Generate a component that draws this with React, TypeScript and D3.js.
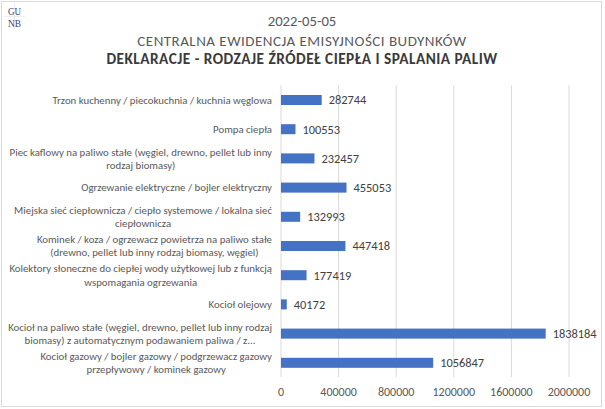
import React, { useEffect, useRef } from "react";
import * as d3 from "d3";

const W = 605;
const H = 409;

const titleDate = "2022-05-05";
const titleMain = "CENTRALNA EWIDENCJA EMISYJNOŚCI BUDYNKÓW";
const titleSub = "DEKLARACJE - RODZAJE ŹRÓDEŁ CIEPŁA I SPALANIA PALIW";

const categories: string[][] = [
  ["Trzon kuchenny / piecokuchnia / kuchnia węglowa"],
  ["Pompa ciepła"],
  ["Piec kaflowy na paliwo stałe (węgiel, drewno, pellet lub inny", "rodzaj biomasy)"],
  ["Ogrzewanie elektryczne / bojler elektryczny"],
  ["Miejska sieć ciepłownicza / ciepło systemowe / lokalna sieć", "ciepłownicza"],
  ["Kominek / koza / ogrzewacz powietrza na paliwo stałe", "(drewno, pellet lub inny rodzaj biomasy, węgiel)"],
  ["Kolektory słoneczne do ciepłej wody użytkowej lub z funkcją", "wspomagania ogrzewania"],
  ["Kocioł olejowy"],
  ["Kocioł na paliwo stałe (węgiel, drewno, pellet lub inny rodzaj", "biomasy) z automatycznym podawaniem paliwa / z..."],
  ["Kocioł gazowy / bojler gazowy / podgrzewacz gazowy", "przepływowy / kominek gazowy"],
];

const values: number[] = [282744, 100553, 232457, 455053, 132993, 447418, 177419, 40172, 1838184, 1056847];

const xTicks: number[] = [0, 400000, 800000, 1200000, 1600000, 2000000];

const FONT = "Carlito, Lato, 'Open Sans', sans-serif";

export default function App() {
  const gRef = useRef<SVGGElement>(null);

  const x = d3.scaleLinear().domain([0, 2000000]).range([281, 569]);
  const ids = categories.map((_, i) => String(i));
  const y = d3
    .scaleBand<string>()
    .domain(ids)
    .range([85.4, 377.4])
    .paddingInner(0.657)
    .paddingOuter(0.3285);

  const labelRight = 272;

  useEffect(() => {
    if (!gRef.current) return;
    const g = d3.select(gRef.current);
    g.selectAll<SVGGElement, unknown>("g.cat").each(function () {
      const texts = d3.select(this).selectAll<SVGTextElement, unknown>("text");
      let maxW = 0;
      texts.each(function () {
        maxW = Math.max(maxW, this.getComputedTextLength());
      });
      texts.attr("x", labelRight - maxW / 2).attr("text-anchor", "middle");
    });
  }, []);

  return (
    <svg
      width={W}
      height={H}
      style={{ position: "absolute", left: 0, top: 0, background: "#fff" }}
      fontFamily={FONT}
    >
      <rect x={1.5} y={1.5} width={600} height={405} fill="#fff" stroke="#d9d9d9" strokeWidth={1} />

      {/* logo */}
      <g fill="#3a4478" fontFamily="'Liberation Serif', 'DejaVu Serif', serif" fontSize={11}>
        <line x1={14.5} y1={3} x2={14.5} y2={30} stroke="#dfe2ec" strokeWidth={0.7} />
        <line x1={4} y1={16.3} x2={25} y2={16.3} stroke="#dfe2ec" strokeWidth={0.7} />
        <text x={8} y={15} textLength={13} lengthAdjust="spacingAndGlyphs">GU</text>
        <text x={8} y={27} textLength={13} lengthAdjust="spacingAndGlyphs">NB</text>
      </g>

      {/* titles */}
      <text x={302} y={26} textAnchor="middle" fontSize={14.7} fill="#595959">{titleDate}</text>
      <text x={302} y={45.5} textAnchor="middle" fontSize={15} letterSpacing={0.48} fill="#595959">{titleMain}</text>
      <text x={302} y={63.5} textAnchor="middle" fontSize={15.3} letterSpacing={0.47} fontWeight="bold" fill="#3a3a3a">{titleSub}</text>

      {/* gridlines */}
      <g>
        {xTicks.map((t) => (
          <line key={t} x1={x(t)} x2={x(t)} y1={85.5} y2={377} stroke="#d9d9d9" strokeWidth={1} />
        ))}
      </g>

      {/* bars */}
      <g>
        {values.map((v, i) => (
          <rect
            key={i}
            x={x(0)}
            y={y(ids[i])!}
            width={x(v) - x(0)}
            height={y.bandwidth()}
            fill="#4472c4"
          />
        ))}
      </g>

      {/* value labels */}
      <g fontSize={12.4} fill="#404040">
        {values.map((v, i) => (
          <text key={i} x={x(v) + 7} y={y(ids[i])! + y.bandwidth() / 2} dy="0.35em">
            {v}
          </text>
        ))}
      </g>

      {/* category labels */}
      <g ref={gRef} fontSize={10.8} fill="#595959">
        {categories.map((lines, i) => {
          const cy = y(ids[i])! + y.bandwidth() / 2;
          const lh = 13.2;
          const start = cy - ((lines.length - 1) * lh) / 2;
          return (
            <g className="cat" key={i}>
              {lines.map((ln, j) => (
                <text key={j} x={labelRight} y={start + j * lh} dy="0.35em" textAnchor="end">
                  {ln}
                </text>
              ))}
            </g>
          );
        })}
      </g>

      {/* x tick labels */}
      <g fontSize={12} fill="#595959">
        {xTicks.map((t) => (
          <text key={t} x={x(t)} y={396} textAnchor="middle">
            {t}
          </text>
        ))}
      </g>
    </svg>
  );
}
